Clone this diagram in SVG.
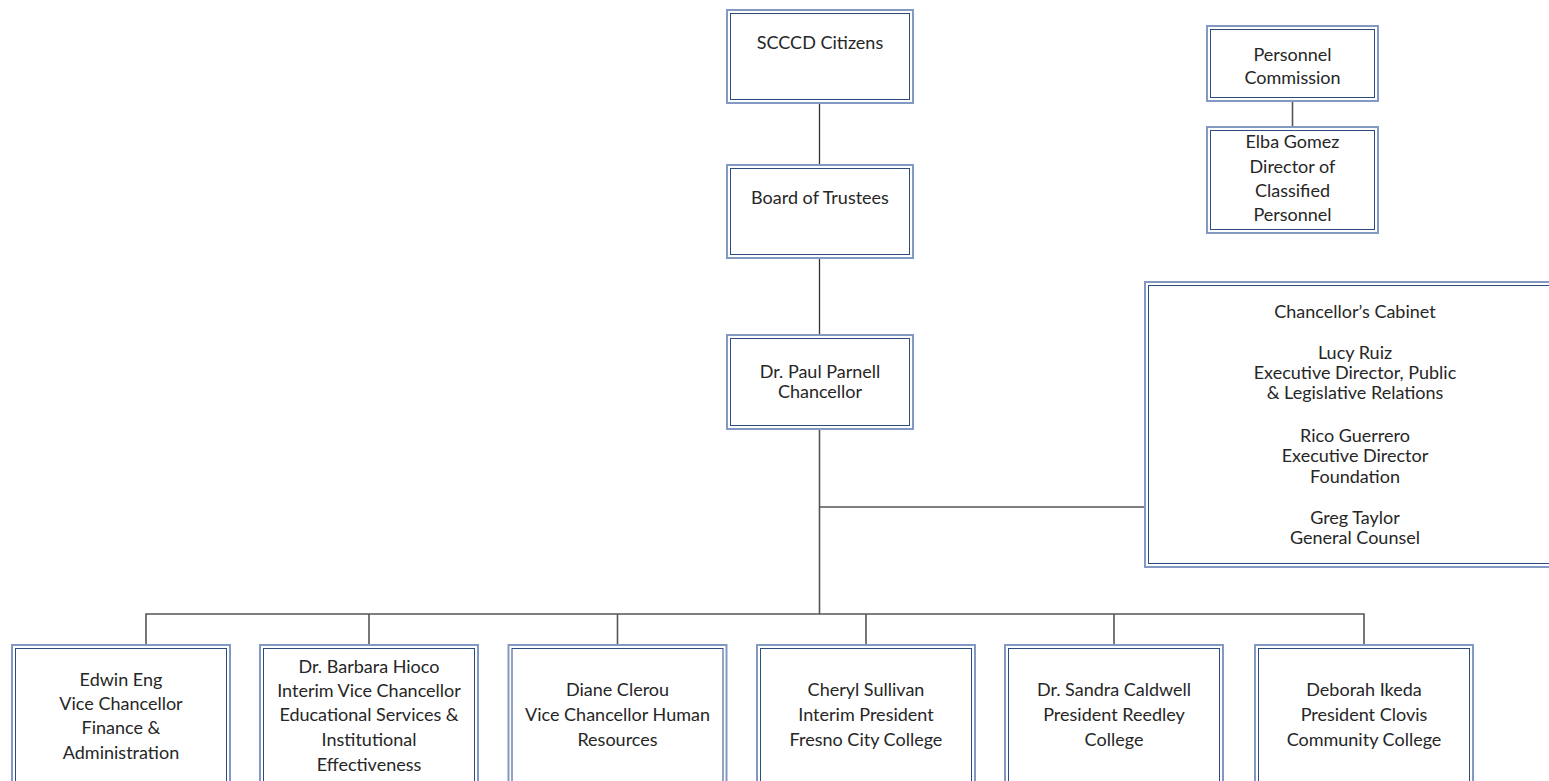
<svg xmlns="http://www.w3.org/2000/svg" width="1549" height="781" viewBox="0 0 1549 781">
<style>
.o{fill:#fff;stroke:#8199c3;stroke-width:2}
.i{fill:none;stroke:#2d4b7e;stroke-width:1}
text{font-family:Lato,"Open Sans","Liberation Sans",sans-serif;font-size:18px;fill:#262626;text-anchor:middle}
.c{fill:none;stroke:#555;stroke-width:1.6}
.ct{fill:none;stroke:#333;stroke-width:1.3}
</style>
<rect width="1549" height="781" fill="#fff"/>
<g id="connectors">
<path class="ct" d="M819.5 103V165M819.5 258V335"/>
<path class="c" d="M819.5 429V614M819.5 507H1145"/>
<path class="c" d="M146 645V614H1364V645M369 614V645M617.5 614V645M866 614V645M1114 614V645"/>
<path class="c" d="M1292.5 101V127"/>
</g>
<g id="citizens">
<rect class="o" x="727" y="10" width="186" height="93"/>
<rect class="i" x="730.5" y="13.5" width="179" height="86"/>
<text x="820" y="49">SCCCD Citizens</text>
</g>
<g id="board">
<rect class="o" x="727" y="165" width="186" height="93"/>
<rect class="i" x="730.5" y="168.5" width="179" height="86"/>
<text x="820" y="204">Board of Trustees</text>
</g>
<g id="chancellor">
<rect class="o" x="727" y="335" width="186" height="94"/>
<rect class="i" x="730.5" y="338.5" width="179" height="87"/>
<text x="820" y="378">Dr. Paul Parnell</text>
<text x="820" y="398">Chancellor</text>
</g>
<g id="personnel-commission">
<rect class="o" x="1207" y="26" width="171" height="75"/>
<rect class="i" x="1210.5" y="29.5" width="164" height="68"/>
<text x="1292.5" y="61">Personnel</text>
<text x="1292.5" y="84">Commission</text>
</g>
<g id="elba-gomez">
<rect class="o" x="1207" y="127" width="171" height="106"/>
<rect class="i" x="1210.5" y="130.5" width="164" height="99"/>
<text x="1292.5" y="148">Elba Gomez</text>
<text x="1292.5" y="173">Director of</text>
<text x="1292.5" y="197">Classified</text>
<text x="1292.5" y="221">Personnel</text>
</g>
<g id="cabinet">
<rect class="o" x="1145" y="282" width="420" height="285"/>
<rect class="i" x="1148.5" y="285.5" width="413" height="278"/>
<text x="1355" y="318">Chancellor’s Cabinet</text>
<text x="1355" y="359">Lucy Ruiz</text>
<text x="1355" y="379">Executive Director, Public</text>
<text x="1355" y="399">&amp; Legislative Relations</text>
<text x="1355" y="442">Rico Guerrero</text>
<text x="1355" y="462">Executive Director</text>
<text x="1355" y="483">Foundation</text>
<text x="1355" y="524">Greg Taylor</text>
<text x="1355" y="544">General Counsel</text>
</g>
<g id="edwin-eng">
<rect class="o" x="12" y="645" width="218" height="150"/>
<rect class="i" x="15.5" y="648.5" width="211" height="143"/>
<text x="121" y="686">Edwin Eng</text>
<text x="121" y="710">Vice Chancellor</text>
<text x="121" y="734">Finance &amp;</text>
<text x="121" y="759">Administration</text>
</g>
<g id="barbara-hioco">
<rect class="o" x="260" y="645" width="218" height="150"/>
<rect class="i" x="263.5" y="648.5" width="211" height="143"/>
<text x="369" y="673">Dr. Barbara Hioco</text>
<text x="369" y="697">Interim Vice Chancellor</text>
<text x="369" y="721">Educational Services &amp;</text>
<text x="369" y="746">Institutional</text>
<text x="369" y="771">Effectiveness</text>
</g>
<g id="diane-clerou">
<rect class="o" x="508.5" y="645" width="218" height="150"/>
<rect class="i" x="512" y="648.5" width="211" height="143"/>
<text x="617.5" y="696">Diane Clerou</text>
<text x="617.5" y="721">Vice Chancellor Human</text>
<text x="617.5" y="746">Resources</text>
</g>
<g id="cheryl-sullivan">
<rect class="o" x="757" y="645" width="218" height="150"/>
<rect class="i" x="760.5" y="648.5" width="211" height="143"/>
<text x="866" y="696">Cheryl Sullivan</text>
<text x="866" y="721">Interim President</text>
<text x="866" y="746">Fresno City College</text>
</g>
<g id="sandra-caldwell">
<rect class="o" x="1005" y="645" width="218" height="150"/>
<rect class="i" x="1008.5" y="648.5" width="211" height="143"/>
<text x="1114" y="696">Dr. Sandra Caldwell</text>
<text x="1114" y="721">President Reedley</text>
<text x="1114" y="746">College</text>
</g>
<g id="deborah-ikeda">
<rect class="o" x="1255" y="645" width="218" height="150"/>
<rect class="i" x="1258.5" y="648.5" width="211" height="143"/>
<text x="1364" y="696">Deborah Ikeda</text>
<text x="1364" y="721">President Clovis</text>
<text x="1364" y="746">Community College</text>
</g>
</svg>
